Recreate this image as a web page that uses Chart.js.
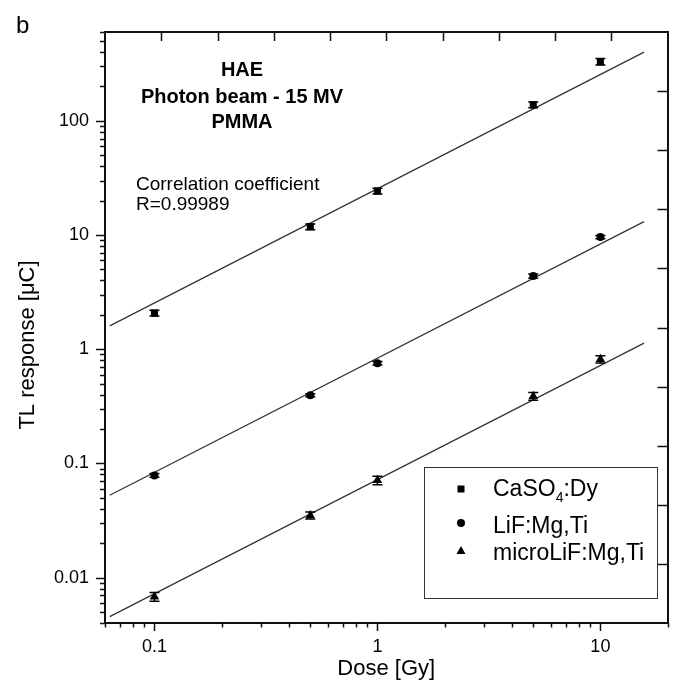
<!DOCTYPE html>
<html>
<head>
<meta charset="utf-8">
<script src="https://cdn.jsdelivr.net/npm/chart.js@4.4.1/dist/chart.umd.min.js"></script>
<style>
  html, body { margin: 0; padding: 0; background: #fff; }
</style>
</head>
<body>
<canvas id="tlChart" width="673" height="683"></canvas>
<script>
// dose points [Gy]
const doses = [0.1, 0.5, 1, 5, 10];

// TL response [uC]
const caso4Values = [2.07, 11.8, 24.3, 138, 330];
const caso4Errors = [0.12, 0.7, 1.4, 8, 22];
const lifValues = [0.0785, 0.395, 0.754, 4.37, 9.6];
const lifErrors = [0.003, 0.012, 0.025, 0.18, 0.3];
const microValues = [0.0068, 0.035, 0.071, 0.387, 0.817];
const microErrors = [0.0006, 0.0025, 0.006, 0.03, 0.06];

// end points of the linear fits
const fitDoses = [0.063, 15.7];
const caso4Fit = [1.6, 400];
const lifFit = [0.0525, 13.1];
const microFit = [0.00455, 1.13];

const xTickLabels = [0.1, 1, 10];
const yTickLabels = [0.01, 0.1, 1, 10, 100];

const FONT = "'Liberation Sans', Arial, Helvetica, sans-serif";

function logTicks(min, max) {
  var out = [];
  for (var e = Math.floor(Math.log10(min)); e <= Math.ceil(Math.log10(max)); e++) {
    for (var m = 1; m <= 9; m++) {
      var v = Number((m * Math.pow(10, e)).toPrecision(6));
      if (v >= min * 0.9999 && v <= max * 1.0001) out.push(v);
    }
  }
  return out;
}
function isDecade(v) {
  var l = Math.log10(v);
  return Math.abs(l - Math.round(l)) < 1e-9;
}
function points(xs, ys) {
  return xs.map(function (x, i) {
    return { x: x, y: ys[i] };
  });
}
function noPadding(scale) {
  scale.paddingLeft = 0;
  scale.paddingRight = 0;
  scale.paddingTop = 0;
  scale.paddingBottom = 0;
}

// tick marks, error bars, annotations and legend
const decorations = {
  id: "decorations",
  afterDatasetsDraw: function (chart) {
    var ctx = chart.ctx;
    var xs = chart.scales.x;
    var ys = chart.scales.y;
    var sets = [
      [caso4Values, caso4Errors],
      [lifValues, lifErrors],
      [microValues, microErrors],
    ];
    ctx.save();
    ctx.strokeStyle = "#000";
    ctx.lineWidth = 1.5;
    sets.forEach(function (s) {
      doses.forEach(function (d, i) {
        var px = xs.getPixelForValue(d);
        var top = ys.getPixelForValue(s[0][i] + s[1][i]);
        var bot = ys.getPixelForValue(s[0][i] - s[1][i]);
        ctx.beginPath();
        ctx.moveTo(px, top);
        ctx.lineTo(px, bot);
        ctx.moveTo(px - 5, top);
        ctx.lineTo(px + 5, top);
        ctx.moveTo(px - 5, bot);
        ctx.lineTo(px + 5, bot);
        ctx.stroke();
      });
    });
    ctx.restore();
  },
  afterDraw: function (chart) {
    var ctx = chart.ctx;
    var area = chart.chartArea;
    var xs = chart.scales.x;
    var ys = chart.scales.y;
    var x2 = chart.scales.x2;
    var y2 = chart.scales.y2;
    ctx.save();
    ctx.strokeStyle = "#111";
    ctx.lineWidth = 1.5;
    ctx.beginPath();
    // outward ticks, bottom and left
    xs.ticks.forEach(function (t) {
      var px = Math.round(xs.getPixelForValue(t.value)) + 0.5;
      var len = isDecade(t.value) ? 8 : 4.5;
      ctx.moveTo(px, area.bottom);
      ctx.lineTo(px, area.bottom + len);
    });
    ys.ticks.forEach(function (t) {
      var py = Math.round(ys.getPixelForValue(t.value)) + 0.5;
      var len = isDecade(t.value) ? 9 : 5;
      ctx.moveTo(area.left, py);
      ctx.lineTo(area.left - len, py);
    });
    // inward ticks, top and right
    x2.ticks.forEach(function (t) {
      if (t.value <= x2.min || t.value >= x2.max) return;
      var px = Math.round(x2.getPixelForValue(t.value)) + 0.5;
      ctx.moveTo(px, area.top);
      ctx.lineTo(px, area.top + 9);
    });
    y2.ticks.forEach(function (t) {
      if (t.value <= y2.min || t.value >= y2.max) return;
      var py = Math.round(y2.getPixelForValue(t.value)) + 0.5;
      ctx.moveTo(area.right, py);
      ctx.lineTo(area.right - 10, py);
    });
    ctx.stroke();

    ctx.fillStyle = "#000";
    // panel letter
    ctx.font = "24px " + FONT;
    ctx.textAlign = "left";
    ctx.textBaseline = "alphabetic";
    ctx.fillText("b", 16, 33);

    // y axis title
    ctx.save();
    ctx.translate(28, 345);
    ctx.rotate(-Math.PI / 2);
    ctx.font = "22px " + FONT;
    ctx.textAlign = "center";
    ctx.textBaseline = "middle";
    ctx.fillText("TL response [\u03BCC]", 0, 0);
    ctx.restore();

    // heading
    ctx.font = "bold 20px " + FONT;
    ctx.textAlign = "center";
    ctx.fillText("HAE", 242, 76);
    ctx.fillText("Photon beam - 15 MV", 242, 103);
    ctx.fillText("PMMA", 242, 128);

    ctx.font = "19px " + FONT;
    ctx.textAlign = "left";
    ctx.fillText("Correlation coefficient", 136, 190);
    ctx.fillText("R=0.99989", 136, 210);

    // legend
    ctx.lineWidth = 1;
    ctx.strokeStyle = "#333";
    ctx.strokeRect(424.5, 467.5, 233, 131);
    var mx = 461;
    ctx.fillRect(mx - 3.5, 489 - 3.5, 7, 7);
    ctx.beginPath();
    ctx.arc(mx, 523, 4, 0, Math.PI * 2);
    ctx.fill();
    ctx.beginPath();
    ctx.moveTo(mx, 551 - 5);
    ctx.lineTo(mx + 4.5, 551 + 3);
    ctx.lineTo(mx - 4.5, 551 + 3);
    ctx.closePath();
    ctx.fill();

    ctx.font = "23px " + FONT;
    var tx = 493;
    ctx.fillText("CaSO", tx, 496);
    var w = ctx.measureText("CaSO").width;
    ctx.font = "14px " + FONT;
    ctx.fillText("4", tx + w, 502);
    var w2 = ctx.measureText("4").width;
    ctx.font = "23px " + FONT;
    ctx.fillText(":Dy", tx + w + w2, 496);
    ctx.fillText("LiF:Mg,Ti", tx, 533);
    ctx.fillText("microLiF:Mg,Ti", tx, 560);
    ctx.restore();
  },
};

const ctx = document.getElementById("tlChart").getContext("2d");
new Chart(ctx, {
  type: "scatter",
  data: {
    datasets: [
      {
        label: "CaSO4:Dy",
        data: points(doses, caso4Values),
        pointStyle: "rect",
        pointRadius: 5,
        backgroundColor: "#000",
        borderColor: "#000",
        borderWidth: 0,
      },
      {
        label: "LiF:Mg,Ti",
        data: points(doses, lifValues),
        pointStyle: "circle",
        pointRadius: 4,
        backgroundColor: "#000",
        borderColor: "#000",
        borderWidth: 0,
      },
      {
        label: "microLiF:Mg,Ti",
        data: points(doses, microValues),
        pointStyle: "triangle",
        pointRadius: 5.5,
        backgroundColor: "#000",
        borderColor: "#000",
        borderWidth: 0,
      },
      {
        label: "fit CaSO4",
        data: points(fitDoses, caso4Fit),
        showLine: true,
        pointRadius: 0,
        borderColor: "#333",
        borderWidth: 1.2,
      },
      {
        label: "fit LiF",
        data: points(fitDoses, lifFit),
        showLine: true,
        pointRadius: 0,
        borderColor: "#333",
        borderWidth: 1.2,
      },
      {
        label: "fit microLiF",
        data: points(fitDoses, microFit),
        showLine: true,
        pointRadius: 0,
        borderColor: "#333",
        borderWidth: 1.2,
      },
    ],
  },
  options: {
    responsive: false,
    animation: false,
    events: [],
    layout: { padding: 0 },
    plugins: {
      legend: { display: false },
      tooltip: { enabled: false },
    },
    scales: {
      x: {
        type: "logarithmic",
        position: "bottom",
        min: 0.06,
        max: 20,
        afterBuildTicks: function (scale) {
          scale.ticks = logTicks(0.06, 20).map(function (v) {
            return { value: v };
          });
        },
        afterFit: function (scale) {
          scale.height = 60;
          noPadding(scale);
        },
        border: { display: true, color: "#111", width: 2 },
        grid: { display: true, drawOnChartArea: false, drawTicks: false },
        ticks: {
          autoSkip: false,
          maxRotation: 0,
          padding: 13,
          color: "#000",
          font: { size: 18, family: FONT },
          callback: function (v) {
            return xTickLabels.indexOf(v) >= 0 ? String(v) : "";
          },
        },
        title: {
          display: true,
          text: "Dose [Gy]",
          color: "#000",
          font: { size: 22, family: FONT },
          padding: { top: 0, bottom: 1 },
        },
      },
      y: {
        type: "logarithmic",
        position: "left",
        min: 0.004,
        max: 600,
        afterBuildTicks: function (scale) {
          scale.ticks = logTicks(0.004, 600).map(function (v) {
            return { value: v };
          });
        },
        afterFit: function (scale) {
          scale.width = 105;
          noPadding(scale);
        },
        border: { display: true, color: "#111", width: 2 },
        grid: { display: true, drawOnChartArea: false, drawTicks: false },
        ticks: {
          autoSkip: false,
          padding: 16,
          color: "#000",
          font: { size: 18, family: FONT },
          callback: function (v) {
            return yTickLabels.indexOf(v) >= 0 ? String(v) : "";
          },
        },
      },
      x2: {
        type: "linear",
        position: "top",
        min: 0,
        max: 10,
        afterFit: function (scale) {
          scale.height = 32;
          noPadding(scale);
        },
        border: { display: true, color: "#111", width: 2 },
        grid: { display: true, drawOnChartArea: false, drawTicks: false },
        ticks: { display: false, stepSize: 1, padding: 0 },
      },
      y2: {
        type: "linear",
        position: "right",
        min: 0,
        max: 10,
        afterFit: function (scale) {
          scale.width = 4;
          noPadding(scale);
        },
        border: { display: true, color: "#111", width: 2 },
        grid: { display: true, drawOnChartArea: false, drawTicks: false },
        ticks: { display: false, stepSize: 1, padding: 0 },
      },
    },
  },
  plugins: [decorations],
});
</script>
</body>
</html>
